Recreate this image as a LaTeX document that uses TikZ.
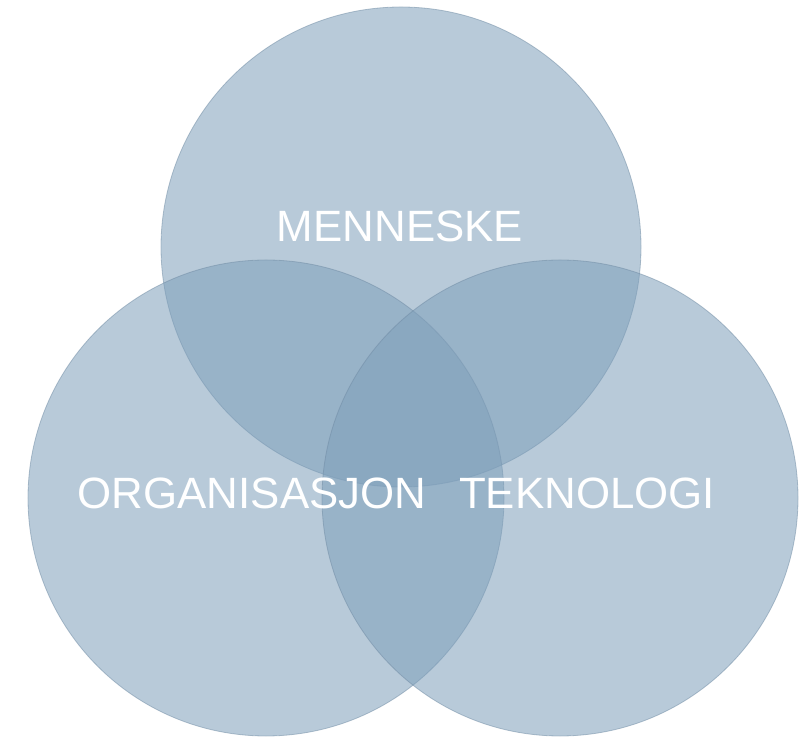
\documentclass[tikz,border=0pt]{standalone}
\usepackage{fontspec}
\setmainfont{Liberation Sans}
\definecolor{venn}{RGB}{126,159,186}
\definecolor{vennline}{RGB}{110,138,162}
\begin{document}
\begin{tikzpicture}[x=1bp,y=1bp,
    felt/.style={circle,inner sep=0pt,fill=venn,fill opacity=.55,draw=vennline,draw opacity=.5,line width=.8bp},
    tekst/.style={white,font=\fontsize{44}{48}\selectfont}]
    \useasboundingbox (0,0) rectangle (799,737);
    \node[felt,minimum size=480bp] (menneske) at (401,490) {};
    \node[felt,minimum size=476bp] (organisasjon) at (266,239) {};
    \node[felt,minimum size=476bp] (teknologi) at (560,239) {};
    \node[tekst] (menneskeTxt) at (400,511) {MENNESKE};
    \node[tekst] (organisasjonTxt) at (252,244) {ORGANISASJON};
    \node[tekst] (teknologiTxt) at (587,244) {TEKNOLOGI};
  \end{tikzpicture}
\end{document}
